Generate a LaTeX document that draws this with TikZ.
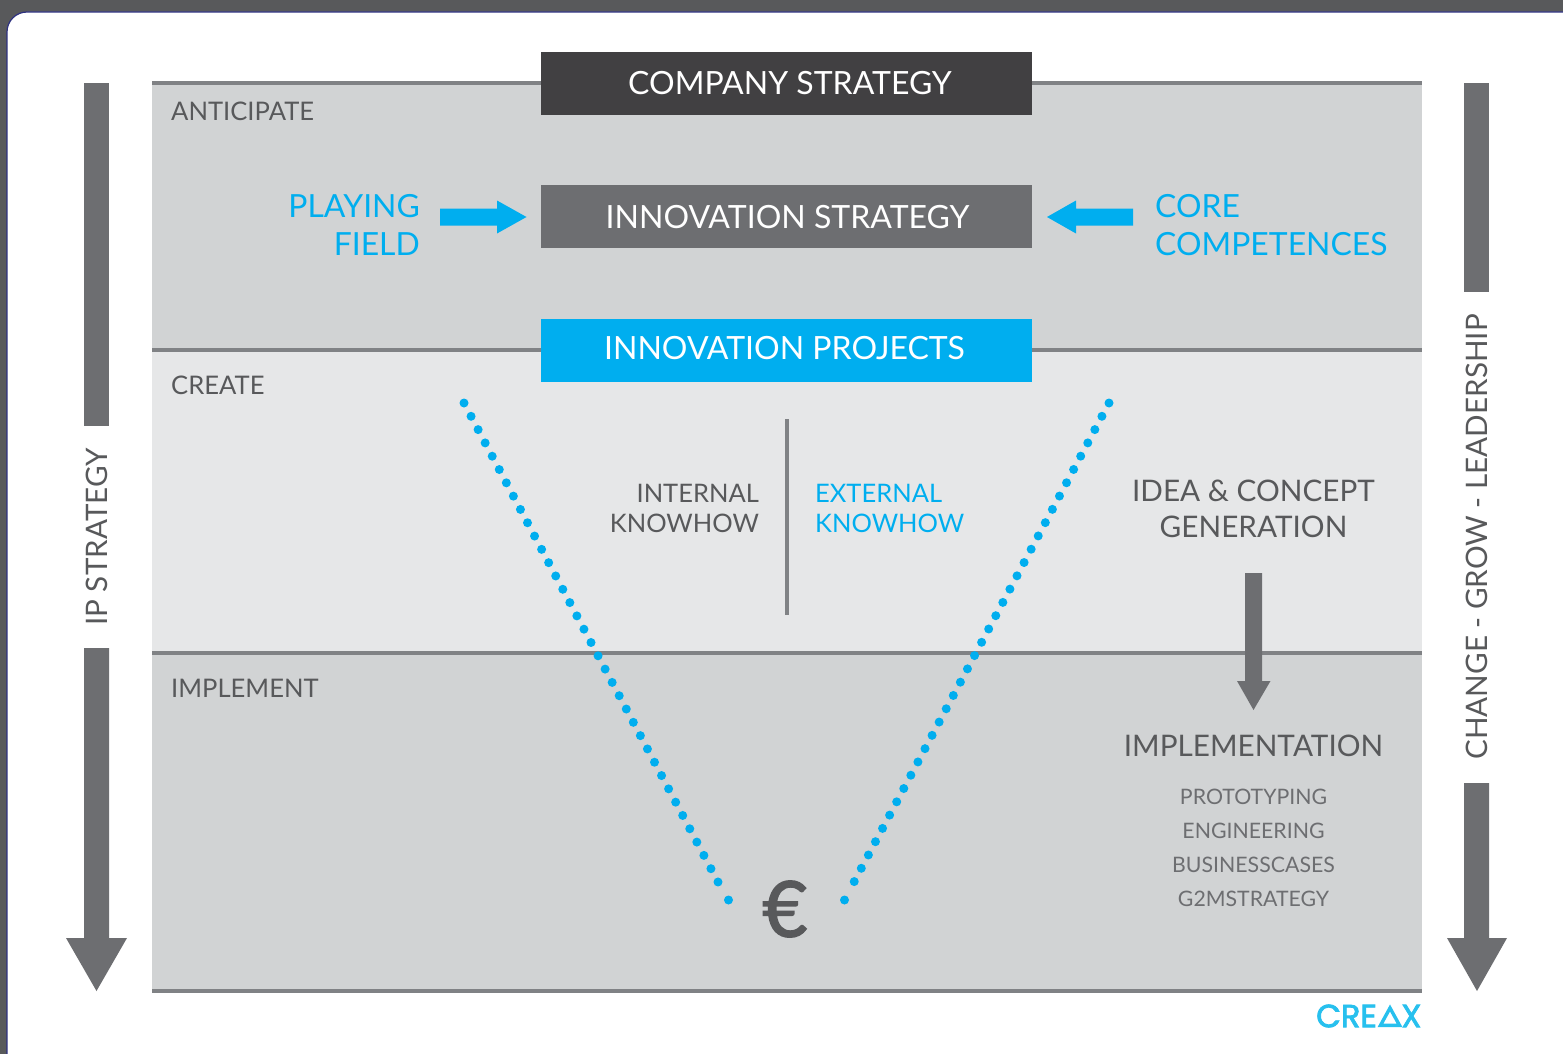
\documentclass[tikz,border=0pt]{standalone}
\usepackage{fontspec}
\setmainfont{Lato}
\newfontfamily\logofont{Poppins}[FakeBold=2.5]
\newfontfamily\eurofont{Lato}[FakeBold=2.2]
\usetikzlibrary{arrows.meta}
\definecolor{darkbg}{HTML}{58595B}
\definecolor{bandA}{HTML}{D1D3D4}
\definecolor{bandB}{HTML}{E6E7E8}
\definecolor{rulec}{HTML}{808285}
\definecolor{arrowgrey}{HTML}{6D6E71}
\definecolor{boxdark}{HTML}{414042}
\definecolor{skyb}{HTML}{00AEEF}
\definecolor{creax}{HTML}{27C0EE}
\definecolor{txtg}{HTML}{58595B}
\definecolor{frameblue}{HTML}{2E3180}
\newcommand{\fs}[1]{\fontsize{#1pt}{#1pt}\selectfont}
\tikzset{
 x=1pt,y=-1pt,
 band/.style={anchor=north west,inner sep=0pt,outer sep=0pt,minimum width=1270pt},
 bandrule/.style={line width=4pt,rulec},
 bigbox/.style={anchor=north west,inner sep=0pt,outer sep=0pt,minimum width=491pt,minimum height=63pt},
 boxtext/.style={inner sep=0pt,text=white,font=\fs{32}},
 phase/.style={anchor=west,inner sep=0pt,text=txtg,font=\fs{25.6}},
 bluelbl/.style={inner sep=0pt,text=skyb,font=\fs{31.9}},
 know/.style={inner sep=0pt,font=\fs{25.5}},
 head/.style={inner sep=0pt,text=txtg,font=\fs{29.7}},
 sub/.style={inner sep=0pt,text=arrowgrey,font=\fs{21.3}},
 dots/.style={line width=9pt,skyb,line cap=round,dash pattern=on 0pt off 15.06pt},
 dotend/.style={circle,fill=skyb,inner sep=0pt,minimum size=9pt},
 side/.style={inner sep=0pt,text=txtg,font=\fs{29.6},rotate=90},
 logo/.style={inner sep=0pt,anchor=east,text=creax,font=\logofont\fs{32}},
}
\begin{document}
\begin{tikzpicture}
\useasboundingbox (0,0) rectangle (1563,1054);
\fill[darkbg] (0,0) rectangle (1563,1054);
\filldraw[fill=white,draw=frameblue,line width=1.2pt,rounded corners=20pt] (7,12) -- (1600,12) -- (1600,1100) -- (7,1100) -- cycle;
% bands
\node[band,fill=bandA,minimum height=267pt] (anticipate) at (152,83) {};
\node[band,fill=bandB,minimum height=303pt] (create) at (152,350) {};
\node[band,fill=bandA,minimum height=338pt] (implement) at (152,653) {};
\draw[bandrule] (anticipate.north west) -- (anticipate.north east);
\draw[bandrule] (create.north west) -- (create.north east);
\draw[bandrule] (implement.north west) -- (implement.north east);
\draw[bandrule] (implement.south west) -- (implement.south east);
\node[phase] (lA) at (171,111) {ANTICIPATE};
\node[phase] (lC) at (171,385) {CREATE};
\node[phase] (lI) at (171,688) {IMPLEMENT};
% boxes
\node[bigbox,fill=boxdark] (company) at (541,52) {};
\node[boxtext] (companyT) at (790,83) {COMPANY STRATEGY};
\node[bigbox,fill=arrowgrey] (innov) at (541,185) {};
\node[boxtext] (innovT) at (787.5,217) {INNOVATION STRATEGY};
\node[bigbox,fill=skyb] (proj) at (541,319) {};
\node[boxtext] (projT) at (784.5,348) {INNOVATION PROJECTS};
% blue labels
\node[bluelbl,anchor=east] (pf1) at (420,206) {PLAYING};
\node[bluelbl,anchor=east] (pf2) at (420,244) {FIELD};
\node[bluelbl,anchor=west] (cc1) at (1155,206) {CORE};
\node[bluelbl,anchor=west] (cc2) at (1155,244) {COMPETENCES};
% blue arrows
\coordinate (bl0) at (440,217);
\coordinate (br0) at (1133,217);
\fill[skyb] (bl0) ++(0,-8.5) -- ++(57,0) -- ++(0,-8) -- (526.5,217) -- (497,233.5) -- (497,225.5) -- (440,225.5) -- cycle;
\fill[skyb] (br0) ++(0,-8.5) -- ++(-57,0) -- ++(0,-8) -- (1047,217) -- (1076,233.5) -- (1076,225.5) -- (1133,225.5) -- cycle;
% dotted V
\coordinate (vl0) at (464,403);
\coordinate (vl1) at (718,882);
\coordinate (vr0) at (1109,403);
\coordinate (vr1) at (854,882);
\draw[dots] (vl0) -- (vl1);
\draw[dots] (vr0) -- (vr1);
\node[dotend] (vl2) at (728.5,900) {};
\node[dotend] (vr2) at (844.5,900) {};
\node[inner sep=0pt,text=txtg,font=\eurofont\fs{77}] (euro) at (785,909) {€};
% knowhow
\draw[line width=4pt,rulec] (786.5,419) -- (786.5,615);
\node[know,text=txtg,anchor=east] (ik1) at (759,493) {INTERNAL};
\node[know,text=txtg,anchor=east] (ik2) at (759,523) {KNOWHOW};
\node[know,text=skyb,anchor=west] (ek1) at (815,493) {EXTERNAL};
\node[know,text=skyb,anchor=west] (ek2) at (815,523) {KNOWHOW};
% right column
\node[head] (idea1) at (1253.5,491) {IDEA \& CONCEPT};
\node[head] (idea2) at (1253.5,527) {GENERATION};
\fill[arrowgrey] (1245,573) -- (1262,573) -- (1262,681) -- (1270.5,681) -- (1253.5,710) -- (1237,681) -- (1245,681) -- cycle;
\node[head] (impl) at (1253.5,745.5) {IMPLEMENTATION};
\node[sub] (p1) at (1253.5,797) {PROTOTYPING};
\node[sub] (p2) at (1253.5,831) {ENGINEERING};
\node[sub] (p3) at (1253.5,865) {BUSINESSCASES};
\node[sub] (p4) at (1253.5,899) {G2MSTRATEGY};
% side arrows
\fill[arrowgrey] (84,83) rectangle (109,426);
\fill[arrowgrey] (84,648) -- (109,648) -- (109,938) -- (127,938) -- (96.5,991) -- (66,938) -- (84,938) -- cycle;
\node[side] (ip) at (96.5,537) {IP STRATEGY};
\fill[arrowgrey] (1464,83) rectangle (1489,292);
\fill[arrowgrey] (1464,783) -- (1489,783) -- (1489,938) -- (1507,938) -- (1477,991) -- (1447,938) -- (1464,938) -- cycle;
\node[side] (cgl) at (1476.5,537) {CHANGE - GROW - LEADERSHIP};
% logo
\node[logo] (logoX) at (1421.5,1016) {X};
\node[logo] (logoC) at (1377,1016) {CRE};
\draw[creax,line width=3.4pt,miter limit=10] (1390,1008) -- (1399.5,1025.3) -- (1380.5,1025.3) -- cycle;
\end{tikzpicture}
\end{document}
